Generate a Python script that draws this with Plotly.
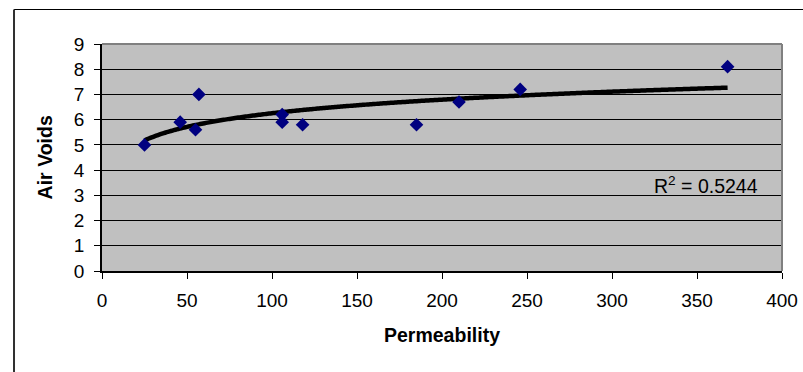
import numpy as np
import plotly.graph_objects as go

# Measured samples
permeability = [25, 46, 55, 57, 106, 106, 118, 185, 210, 246, 368]
air_voids = [5.0, 5.9, 5.6, 7.0, 6.2, 5.9, 5.8, 5.8, 6.7, 7.2, 8.1]

x_ticks = [0, 50, 100, 150, 200, 250, 300, 350, 400]
y_ticks = [0, 1, 2, 3, 4, 5, 6, 7, 8, 9]
r2_text = "R<sup>2</sup> = 0.5244"

# Logarithmic trendline y = a*ln(x) + b fitted to the samples
a, b = np.polyfit(np.log(permeability), air_voids, 1)
trend_x = np.linspace(min(permeability), max(permeability), 200)
trend_y = a * np.log(trend_x) + b

FONT = "Liberation Sans, Arial, sans-serif"

fig = go.Figure()
fig.add_trace(go.Scatter(
    x=trend_x, y=trend_y, mode="lines",
    line=dict(color="black", width=4.5, shape="spline"),
    hoverinfo="skip", showlegend=False,
))
fig.add_trace(go.Scatter(
    x=permeability, y=air_voids, mode="markers",
    marker=dict(symbol="diamond", size=10.5, color="#000080", line=dict(width=0)),
    showlegend=False,
))

fig.update_layout(
    width=803, height=372, autosize=False,
    margin=dict(l=102, r=21, t=44, b=101, autoexpand=False),
    paper_bgcolor="white",
    plot_bgcolor="#C0C0C0",
    font=dict(family=FONT, size=19, color="black"),
    xaxis=dict(
        range=[0, 400], tickvals=x_ticks, showgrid=False, zeroline=False,
        showline=True, linecolor="black", linewidth=1.5, automargin=False,
        ticks="outside", ticklen=6, tickcolor="black", tickwidth=1,
        ticklabelstandoff=5, fixedrange=True,
    ),
    yaxis=dict(
        range=[0, 9], tickvals=y_ticks, showgrid=True, gridcolor="black",
        gridwidth=1, zeroline=False, automargin=False,
        showline=True, linecolor="black", linewidth=1.5,
        ticks="outside", ticklen=6, tickcolor="black", tickwidth=1,
        ticklabelstandoff=6, fixedrange=True,
    ),
    annotations=[
        dict(text="<b>Permeability</b>", xref="paper", yref="paper",
             x=0.5, y=-0.282, xanchor="center", yanchor="middle",
             showarrow=False, font=dict(size=19.5)),
        dict(text="<b>Air Voids</b>", xref="paper", yref="paper",
             x=-0.084, y=0.5, xanchor="center", yanchor="middle",
             textangle=-90, showarrow=False, font=dict(size=19.5)),
        dict(text=r2_text, xref="x", yref="y", x=355, y=3.4,
             xanchor="center", yanchor="middle", showarrow=False,
             font=dict(size=19.5)),
    ],
    shapes=[
        # top and right edges of the plot area
        dict(type="line", xref="paper", yref="paper", x0=0, x1=1, y0=1, y1=1,
             line=dict(color="#808080", width=2), layer="above"),
        dict(type="line", xref="paper", yref="paper", x0=1, x1=1, y0=0, y1=1,
             line=dict(color="#808080", width=2), layer="above"),
        # outer chart frame
        dict(type="line", xref="paper", yref="paper", x0=-0.1294, x1=1.05,
             y0=1.152, y1=1.152, line=dict(color="black", width=1.2)),
        dict(type="line", xref="paper", yref="paper", x0=-0.1294, x1=-0.1294,
             y0=1.152, y1=-0.5, line=dict(color="#303030", width=2)),
    ],
)

fig.write_html("out.html", config={"responsive": False})
